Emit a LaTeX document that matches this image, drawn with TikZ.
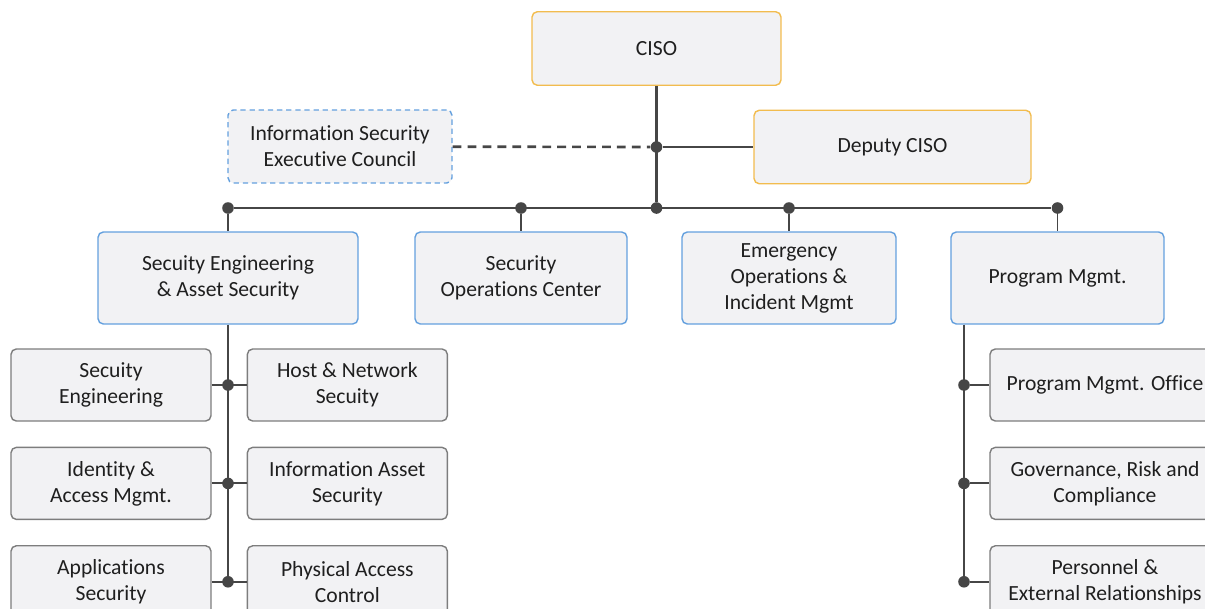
\documentclass[tikz,border=0pt]{standalone}
\usepackage{fontspec}
\setmainfont{Carlito}[Ligatures=CommonOff]
\usetikzlibrary{positioning, calc}
\definecolor{bordergold}{RGB}{242, 188, 78}
\definecolor{borderblue}{RGB}{100, 160, 222}
\definecolor{bordergray}{RGB}{125, 125, 125}
\definecolor{boxfill}{RGB}{242, 242, 244}
\definecolor{linegray}{RGB}{70, 70, 70}

\begin{document}
\begin{tikzpicture}[
			x=0.02cm, y=-0.02cm,
			box/.style={rectangle, rounded corners=3pt, fill=boxfill, line width=0.8pt, align=center, text=black!88, font=\fontsize{12.3}{14.8}\selectfont},
			chief/.style={box, draw=bordergold, minimum height=1.47cm},
			division/.style={box, draw=borderblue, minimum height=1.84cm},
			team/.style={box, draw=bordergray, minimum width=4cm, minimum height=1.44cm},
			link/.style={draw=linegray, line width=1.5pt},
			branch/.style={draw=linegray, line width=1.1pt},
			joint/.style={circle, fill=linegray, inner sep=0pt, minimum size=6.6pt}
		]
		\useasboundingbox (0,0) rectangle (1205,609);
		\clip (0,0) rectangle (1205,609);
		
		% Top management
		\node[chief, minimum width=4.98cm] (ciso) at (656.5,48.5) {CISO};
		\node[chief, minimum width=5.54cm] (deputy) at (892.5,147) {Deputy CISO};
		\node[box, draw=borderblue, dash pattern=on 3pt off 2.2pt, minimum width=4.48cm, minimum height=1.46cm] (council) at (340,146.5) {Information Security\\Executive Council};
		
		% Divisions
		\node[division, minimum width=5.2cm] (seas) at (228,278) {Secuity Engineering\\\& Asset Security};
		\node[division, minimum width=4.24cm] (soc) at (521,278) {Security\\Operations Center};
		\node[division, minimum width=4.28cm] (eoim) at (789,278) {Emergency\\Operations \&\\Incident Mgmt};
		\node[division, minimum width=4.26cm] (pm) at (1057.5,278) {Program Mgmt.};
		
		% Engineering & asset security teams
		\node[team] (se) at (111,385) {Secuity\\Engineering};
		\node[team, right=0.7cm of se] (hns) {Host \& Network\\Secuity};
		\node[team, below=0.5cm of se] (iam) {Identity \&\\Access Mgmt.};
		\node[team, right=0.7cm of iam] (ias) {Information Asset\\Security};
		\node[team, below=0.5cm of iam] (apps) {Applications\\Security};
		\node[team, right=0.7cm of apps] (pac) {Physical Access\\Control};
		
		% Program management teams
		\node[team, minimum width=4.6cm] (pmo) at (1105,385) {Program Mgmt. Office};
		\node[team, minimum width=4.6cm, below=0.5cm of pmo] (grc) {Governance, Risk and\\Compliance};
		\node[team, minimum width=4.6cm, below=0.5cm of grc] (per) {Personnel \&\\External Relationships};
		
		% Joints
		\node[joint] (jc) at (ciso.south |- deputy) {};
		\node[joint] (b1) at (seas.north |- 0,208) {};
		\node[joint] (b2) at (soc.north |- 0,208) {};
		\node[joint] (b3) at (ciso.south |- 0,208) {};
		\node[joint] (b4) at (eoim.north |- 0,208) {};
		\node[joint] (b5) at (pm.north |- 0,208) {};
		\node[joint] (t1) at (seas.south |- se) {};
		\node[joint] (t2) at (seas.south |- iam) {};
		\node[joint] (t3) at (seas.south |- apps) {};
		\node[joint] (p1) at (964,0 |- pmo) {};
		\node[joint] (p2) at (964,0 |- grc) {};
		\node[joint] (p3) at (964,0 |- per) {};
		
		% Connectors
		\draw[link] (ciso) -- (b3);
		\draw[link] (jc) -- (deputy);
		\draw[link, dash pattern=on 5pt off 3.5pt] (council) -- (jc);
		\draw[link] (b1) -- (b5);
		\draw[branch] (b1) -- (seas);
		\draw[branch] (b2) -- (soc);
		\draw[branch] (b4) -- (eoim);
		\draw[branch] (b5) -- (pm);
		\draw[branch] (seas) -- (t3);
		\draw[branch] (se) -- (hns);
		\draw[branch] (iam) -- (ias);
		\draw[branch] (apps) -- (pac);
		\draw[branch] (p1 |- pm.south) -- (p3);
		\draw[branch] (p1) -- (pmo);
		\draw[branch] (p2) -- (grc);
		\draw[branch] (p3) -- (per);
\end{tikzpicture}
\end{document}
